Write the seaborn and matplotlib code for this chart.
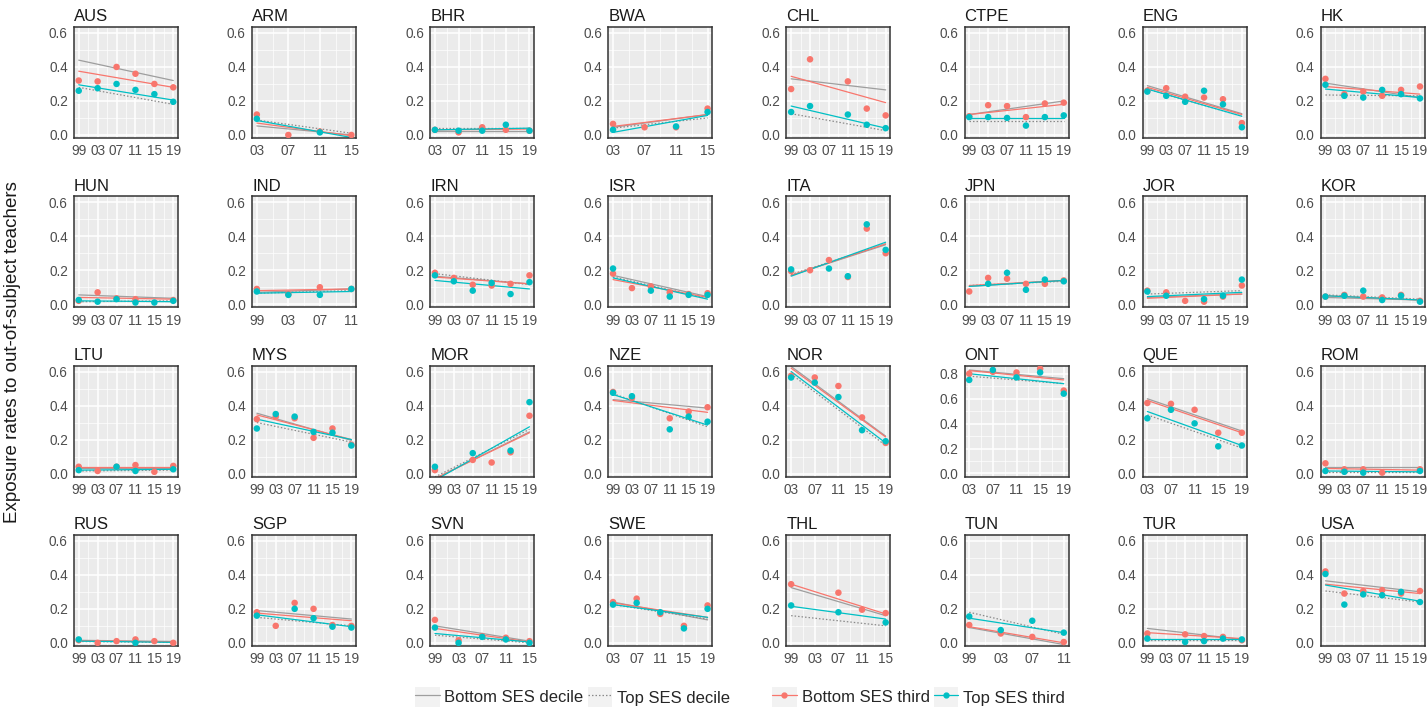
import numpy as np
import pandas as pd
import matplotlib.pyplot as plt
import seaborn as sns
from matplotlib.lines import Line2D
from matplotlib.patches import Patch
from matplotlib.legend_handler import HandlerTuple
from matplotlib.ticker import FixedLocator

# Countries in facet order, with first and last TIMSS wave shown
countries = ["AUS", "ARM", "BHR", "BWA", "CHL", "CTPE", "ENG", "HK",
             "HUN", "IND", "IRN", "ISR", "ITA", "JPN", "JOR", "KOR",
             "LTU", "MYS", "MOR", "NZE", "NOR", "ONT", "QUE", "ROM",
             "RUS", "SGP", "SVN", "SWE", "THL", "TUN", "TUR", "USA"]

waves = {"AUS": (1999, 2019), "ARM": (2003, 2015), "BHR": (2003, 2019), "BWA": (2003, 2015),
         "CHL": (1999, 2019), "CTPE": (1999, 2019), "ENG": (1999, 2019), "HK": (1999, 2019),
         "HUN": (1999, 2019), "IND": (1999, 2011), "IRN": (1999, 2019), "ISR": (1999, 2019),
         "ITA": (1999, 2019), "JPN": (1999, 2019), "JOR": (1999, 2019), "KOR": (1999, 2019),
         "LTU": (1999, 2019), "MYS": (1999, 2019), "MOR": (1999, 2019), "NZE": (1999, 2019),
         "NOR": (2003, 2019), "ONT": (2003, 2019), "QUE": (2003, 2019), "ROM": (1999, 2019),
         "RUS": (1999, 2019), "SGP": (1999, 2019), "SVN": (1999, 2015), "SWE": (2003, 2019),
         "THL": (1999, 2015), "TUN": (1999, 2011), "TUR": (1999, 2019), "USA": (1999, 2019)}

# Observed exposure rates, one value per wave (None = not shown)
bottom_third = {
    "AUS": [0.32, 0.315, 0.40, 0.36, 0.30, 0.28], "ARM": [0.12, 0.0, 0.02, 0.0],
    "BHR": [0.03, 0.015, 0.045, 0.03, 0.025], "BWA": [0.065, 0.045, 0.045, 0.155],
    "CHL": [0.27, 0.445, None, 0.315, 0.155, 0.115], "CTPE": [0.11, 0.175, 0.17, 0.105, 0.185, 0.19],
    "ENG": [0.26, 0.275, 0.225, 0.22, 0.21, 0.07], "HK": [0.33, 0.24, 0.255, 0.23, 0.265, 0.285],
    "HUN": [0.02, 0.07, 0.035, 0.03, None, 0.025], "IND": [0.09, 0.06, 0.10, 0.09],
    "IRN": [0.185, 0.155, 0.115, 0.11, 0.12, 0.17], "ISR": [0.18, 0.095, 0.105, 0.07, 0.06, 0.065],
    "ITA": [0.195, 0.20, 0.26, 0.16, 0.445, 0.30], "JPN": [0.075, 0.155, 0.15, 0.12, 0.12, 0.14],
    "JOR": [0.08, 0.07, 0.02, 0.015, 0.045, 0.11], "KOR": [0.045, 0.055, 0.045, 0.04, 0.055, 0.02],
    "LTU": [0.04, 0.015, 0.04, 0.05, 0.01, 0.045], "MYS": [0.32, 0.335, 0.325, 0.21, 0.265, 0.17],
    "MOR": [0.02, None, 0.08, 0.065, 0.125, 0.34], "NZE": [0.48, 0.445, None, 0.325, 0.365, 0.39],
    "NOR": [0.575, 0.565, 0.515, 0.33, 0.18], "ONT": [0.80, 0.815, 0.81, 0.84, 0.665],
    "QUE": [0.415, 0.41, 0.375, 0.24, 0.24], "ROM": [0.06, 0.025, 0.025, 0.005, None, 0.025],
    "RUS": [0.015, 0.0, 0.01, 0.02, 0.01, 0.0], "SGP": [0.18, 0.10, 0.235, 0.20, 0.105, 0.10],
    "SVN": [0.135, 0.015, 0.04, 0.03, 0.01], "SWE": [0.24, 0.26, 0.17, 0.10, 0.22],
    "THL": [0.345, None, 0.295, 0.195, 0.175], "TUN": [0.105, 0.055, 0.035, 0.005],
    "TUR": [0.055, None, 0.05, 0.04, 0.035, 0.015], "USA": [0.42, 0.29, 0.305, 0.31, 0.29, 0.305]}

top_third = {
    "AUS": [0.26, 0.275, 0.30, 0.265, 0.24, 0.195], "ARM": [0.095, None, 0.015, None],
    "BHR": [0.03, 0.025, 0.025, 0.06, 0.025], "BWA": [0.03, None, 0.05, 0.135],
    "CHL": [0.135, 0.17, None, 0.12, 0.06, 0.04], "CTPE": [0.105, 0.105, 0.10, 0.055, 0.105, 0.115],
    "ENG": [0.255, 0.23, 0.195, 0.26, 0.18, 0.045], "HK": [0.295, 0.23, 0.22, 0.265, 0.24, 0.215],
    "HUN": [0.025, 0.015, 0.03, 0.01, 0.01, 0.02], "IND": [0.075, 0.055, 0.055, 0.09],
    "IRN": [0.17, 0.135, 0.08, 0.125, 0.06, 0.13], "ISR": [0.21, None, 0.08, 0.045, 0.055, 0.055],
    "ITA": [0.205, None, 0.21, 0.165, 0.47, 0.32], "JPN": [None, 0.12, 0.185, 0.085, 0.145, 0.135],
    "JOR": [0.075, 0.05, None, 0.03, 0.05, 0.145], "KOR": [0.045, 0.05, 0.08, 0.025, 0.05, 0.015],
    "LTU": [0.02, None, 0.04, 0.015, None, 0.025], "MYS": [0.265, 0.35, 0.335, 0.245, 0.24, 0.165],
    "MOR": [0.04, None, 0.12, None, 0.135, 0.42], "NZE": [0.475, 0.455, None, 0.26, 0.335, 0.305],
    "NOR": [0.565, 0.535, 0.45, 0.255, 0.19], "ONT": [0.75, 0.83, 0.77, 0.81, 0.64],
    "QUE": [0.325, 0.375, 0.295, 0.16, 0.165], "ROM": [0.015, 0.01, 0.005, None, None, 0.015],
    "RUS": [0.02, None, None, 0.0, None, None], "SGP": [0.16, None, 0.20, 0.145, 0.095, 0.09],
    "SVN": [0.09, 0.0, 0.035, 0.02, 0.0], "SWE": [0.225, 0.235, 0.18, 0.085, 0.20],
    "THL": [0.22, None, 0.18, None, 0.12], "TUN": [0.155, 0.075, 0.13, 0.06],
    "TUR": [0.025, None, 0.005, 0.01, 0.025, 0.02], "USA": [0.405, 0.225, 0.285, 0.28, 0.30, 0.24]}

# Fitted trends: value at first wave, value at last wave
trend_bottom_third = {
    "AUS": (0.375, 0.28), "ARM": (0.07, -0.005), "BHR": (0.03, 0.035), "BWA": (0.05, 0.12),
    "CHL": (0.345, 0.19), "CTPE": (0.12, 0.18), "ENG": (0.28, 0.12), "HK": (0.285, 0.24),
    "HUN": (0.04, 0.03), "IND": (0.08, 0.09), "IRN": (0.16, 0.12), "ISR": (0.145, 0.04),
    "ITA": (0.17, 0.355), "JPN": (0.11, 0.14), "JOR": (0.035, 0.06), "KOR": (0.05, 0.025),
    "LTU": (0.04, 0.04), "MYS": (0.345, 0.20), "MOR": (-0.03, 0.24), "NZE": (0.43, 0.36),
    "NOR": (0.62, 0.215), "ONT": (0.825, 0.75), "QUE": (0.43, 0.24), "ROM": (0.03, 0.02),
    "RUS": (0.012, 0.005), "SGP": (0.175, 0.13), "SVN": (0.085, 0.005), "SWE": (0.235, 0.15),
    "THL": (0.345, 0.17), "TUN": (0.095, 0.0), "TUR": (0.06, 0.025), "USA": (0.345, 0.29)}

trend_top_third = {
    "AUS": (0.295, 0.205), "ARM": (0.085, -0.015), "BHR": (0.03, 0.04), "BWA": (0.015, 0.115),
    "CHL": (0.17, 0.04), "CTPE": (0.10, 0.10), "ENG": (0.27, 0.11), "HK": (0.27, 0.22),
    "HUN": (0.02, 0.015), "IND": (0.065, 0.075), "IRN": (0.14, 0.09), "ISR": (0.155, 0.03),
    "ITA": (0.165, 0.365), "JPN": (0.105, 0.14), "JOR": (0.045, 0.07), "KOR": (0.05, 0.025),
    "LTU": (0.02, 0.025), "MYS": (0.32, 0.20), "MOR": (-0.04, 0.275), "NZE": (0.465, 0.285),
    "NOR": (0.60, 0.18), "ONT": (0.80, 0.72), "QUE": (0.365, 0.165), "ROM": (0.015, 0.01),
    "RUS": (0.01, 0.003), "SGP": (0.165, 0.095), "SVN": (0.055, 0.005), "SWE": (0.225, 0.15),
    "THL": (0.215, 0.14), "TUN": (0.145, 0.06), "TUR": (0.02, 0.02), "USA": (0.34, 0.245)}

trend_bottom_decile = {
    "AUS": (0.44, 0.32), "ARM": (0.053, 0.0), "BHR": (0.025, 0.025), "BWA": (0.045, 0.12),
    "CHL": (0.33, 0.265), "CTPE": (0.12, 0.20), "ENG": (0.29, 0.125), "HK": (0.305, 0.22),
    "HUN": (0.055, 0.035), "IND": (0.07, 0.09), "IRN": (0.165, 0.12), "ISR": (0.17, 0.045),
    "ITA": (0.17, 0.35), "JPN": (0.105, 0.14), "JOR": (0.04, 0.06), "KOR": (0.04, 0.025),
    "LTU": (0.035, 0.035), "MYS": (0.355, 0.195), "MOR": (-0.03, 0.245), "NZE": (0.435, 0.385),
    "NOR": (0.63, 0.22), "ONT": (0.83, 0.76), "QUE": (0.44, 0.25), "ROM": (0.04, 0.04),
    "RUS": (0.015, 0.008), "SGP": (0.19, 0.14), "SVN": (0.10, 0.01), "SWE": (0.24, 0.135),
    "THL": (0.325, 0.16), "TUN": (0.09, -0.01), "TUR": (0.085, 0.02), "USA": (0.365, 0.30)}

trend_top_decile = {
    "AUS": (0.28, 0.18), "ARM": (0.088, 0.01), "BHR": (0.04, 0.04), "BWA": (0.04, 0.10),
    "CHL": (0.125, 0.025), "CTPE": (0.08, 0.08), "ENG": (0.27, 0.11), "HK": (0.235, 0.23),
    "HUN": (0.015, 0.02), "IND": (0.065, 0.08), "IRN": (0.18, 0.115), "ISR": (0.16, 0.035),
    "ITA": (0.175, 0.355), "JPN": (0.11, 0.135), "JOR": (0.06, 0.08), "KOR": (0.055, 0.03),
    "LTU": (0.015, 0.02), "MYS": (0.30, 0.185), "MOR": (-0.02, 0.26), "NZE": (0.47, 0.275),
    "NOR": (0.585, 0.165), "ONT": (0.78, 0.72), "QUE": (0.345, 0.15), "ROM": (0.01, 0.01),
    "RUS": (0.008, 0.002), "SGP": (0.15, 0.10), "SVN": (0.045, 0.0), "SWE": (0.225, 0.14),
    "THL": (0.16, 0.10), "TUN": (0.18, 0.05), "TUR": (0.015, 0.015), "USA": (0.305, 0.24)}

RED = "#F8766D"
TEAL = "#00BFC4"
point_palette = {"Bottom SES third": RED, "Top SES third": TEAL}
line_palette = {"Bottom SES decile": "#9E9E9E", "Top SES decile": "#8A8A8A",
                "Bottom SES third": RED, "Top SES third": TEAL}
line_dashes = {"Bottom SES decile": "", "Top SES decile": (1.2, 1.6),
               "Bottom SES third": "", "Top SES third": ""}

# long tables
point_rows = []
trend_rows = []
for c in countries:
    first, last = waves[c]
    years = list(range(first, last + 1, 4))
    for grp, src in [("Bottom SES third", bottom_third), ("Top SES third", top_third)]:
        for yr, v in zip(years, src[c]):
            if v is not None:
                point_rows.append({"country": c, "year": yr, "value": v, "group": grp})
    for grp, src in [("Bottom SES decile", trend_bottom_decile), ("Top SES decile", trend_top_decile),
                     ("Bottom SES third", trend_bottom_third), ("Top SES third", trend_top_third)]:
        trend_rows.append({"country": c, "year": first, "value": src[c][0], "series": grp})
        trend_rows.append({"country": c, "year": last, "value": src[c][1], "series": grp})
points = pd.DataFrame(point_rows)
trends = pd.DataFrame(trend_rows)

sns.set_style("darkgrid", {"axes.facecolor": "#EBEBEB", "grid.color": "white"})
plt.rcParams['font.family'] = ['Liberation Sans', 'DejaVu Sans']

W, H = 1428, 711
fig = plt.figure(figsize=(W / 100, H / 100), dpi=100)
fig.patch.set_facecolor("white")

for i, c in enumerate(countries):
    row, col = divmod(i, 8)
    left = 74 + 178.1 * col
    top = 27 + 169.3 * row
    ax = fig.add_axes([left / W, 1 - (top + 111) / H, 104 / W, 111 / H])

    sns.lineplot(data=trends[trends.country == c], x="year", y="value", hue="series",
                 style="series", palette=line_palette, dashes=line_dashes,
                 estimator=None, sort=False, linewidth=0.9, legend=False, ax=ax)
    sns.scatterplot(data=points[points.country == c], x="year", y="value", hue="group",
                    palette=point_palette, s=22, linewidth=0, legend=False, ax=ax, zorder=3)

    first, last = waves[c]
    span = last - first
    ax.set_xlim(first - 0.05 * span, last + 0.05 * span)
    xt = np.arange(first, last + 1, 4)
    ax.xaxis.set_major_locator(FixedLocator(xt))
    ax.xaxis.set_minor_locator(FixedLocator(xt[:-1] + 2))
    ax.set_xticklabels([f"{y % 100:02d}" for y in xt])

    if c == "ONT":
        ax.set_ylim(-0.025, 0.865)
        yt = np.arange(0, 0.81, 0.2)
    else:
        ax.set_ylim(-0.018, 0.635)
        yt = np.arange(0, 0.61, 0.2)
    ax.yaxis.set_major_locator(FixedLocator(yt))
    ax.yaxis.set_minor_locator(FixedLocator(yt[:-1] + 0.1))
    ax.set_yticklabels([f"{v:.1f}" for v in yt])

    ax.grid(which="major", color="white", linewidth=1.1)
    ax.grid(which="minor", color="white", linewidth=0.5)
    ax.set_axisbelow(True)
    for s in ax.spines.values():
        s.set_visible(True)
        s.set_color("#333333")
        s.set_linewidth(1.1)
    ax.tick_params(which="major", length=3, width=0.8, color="#333333",
                   labelcolor="#4D4D4D", labelsize=9.8, pad=1.5)
    ax.tick_params(which="minor", length=0)
    ax.set_xlabel("")
    ax.set_ylabel("")
    ax.set_title(c, loc="left", fontsize=12, color="#1A1A1A", pad=4)

fig.text(0.003, 0.505, "Exposure rates to out-of-subject teachers", rotation=90,
         va="center", ha="left", fontsize=13.5, color="#1A1A1A")

key_bg = Patch(facecolor="#F2F2F2", edgecolor="none")
decile_handles = [(key_bg, Line2D([], [], color=line_palette["Bottom SES decile"], lw=0.9)),
                  (key_bg, Line2D([], [], color=line_palette["Top SES decile"], lw=0.9,
                                  linestyle=(0, (1.2, 1.6))))]
third_handles = [(key_bg, Line2D([], [], color=RED, lw=0.9, marker="o", markersize=3.5)),
                 (key_bg, Line2D([], [], color=TEAL, lw=0.9, marker="o", markersize=3.5))]

leg_kw = dict(loc="center left", ncol=2, frameon=False, fontsize=12, handlelength=1.45,
              handleheight=1.5, handletextpad=0.3, columnspacing=0.25, borderpad=0,
              handler_map={tuple: HandlerTuple(ndivide=1, pad=0)})
fig.legend(decile_handles, ["Bottom SES decile", "Top SES decile"],
           bbox_to_anchor=(407 / W, 1 - 697 / H), **leg_kw)
fig.legend(third_handles, ["Bottom SES third", "Top SES third"],
           bbox_to_anchor=(764 / W, 1 - 697 / H), **leg_kw)

fig.savefig("out.png", dpi=100)
